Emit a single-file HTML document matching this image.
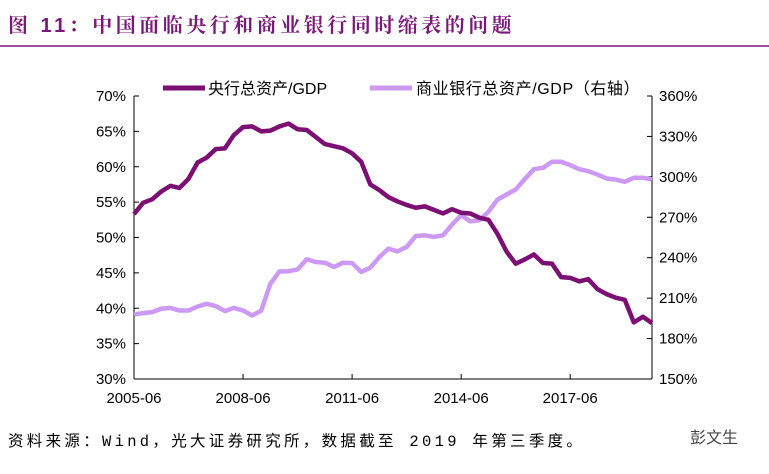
<!DOCTYPE html>
<html><head><meta charset="utf-8"><style>
body{margin:0;width:769px;height:469px;background:#fff;overflow:hidden;font-family:"Liberation Sans","Noto Sans CJK SC",sans-serif;}
</style></head><body>
<svg width="769" height="469">
<text x="8" y="32" font-size="20" font-weight="bold" letter-spacing="3.5" fill="#7a1a78" font-family="Liberation Sans,Noto Serif CJK SC,serif">图 11：中国面临央行和商业银行同时缩表的问题</text>
<line x1="0" y1="46" x2="769" y2="46" stroke="#7a1a78" stroke-width="1.5"/>
<g id="axes"></g>
<g id="series"></g>
<g>
<line x1="163" y1="88" x2="205" y2="88" stroke="#7b0f73" stroke-width="5"/>
<text x="208" y="94" font-size="16" fill="#000">央行总资产/GDP</text>
<line x1="370" y1="88" x2="412" y2="88" stroke="#cc99f5" stroke-width="5"/>
<text x="416" y="94" font-size="16" letter-spacing="0.6" fill="#000">商业银行总资产/GDP（右轴）</text>
</g>
<text x="8" y="446" font-size="15.5" letter-spacing="3.3" fill="#000" font-family="Liberation Mono,Noto Sans CJK SC,monospace">资料来源：Wind，光大证券研究所，数据截至 2019 年第三季度。</text>
<text x="690" y="443" font-size="16" fill="#444">彭文生</text>
</svg>
<script>
const xLabels=["2005-06","2008-06","2011-06","2014-06","2017-06"];
const leftTicks=[30,35,40,45,50,55,60,65,70];
const rightTicks=[150,180,210,240,270,300,330,360];
const centralBank=[53.3,54.9,55.4,56.5,57.3,57.0,58.3,60.6,61.3,62.5,62.6,64.5,65.6,65.7,65.0,65.1,65.7,66.1,65.3,65.2,64.2,63.2,62.9,62.6,61.9,60.7,57.5,56.7,55.7,55.1,54.6,54.2,54.4,53.9,53.4,54.0,53.5,53.4,52.8,52.5,50.5,48.0,46.3,46.9,47.6,46.4,46.3,44.4,44.3,43.8,44.1,42.7,42.0,41.5,41.2,38.0,38.8,37.9];
const commercialBanks=[197.9,198.9,199.6,202.1,202.8,200.8,200.8,203.8,205.8,204.1,200.4,202.8,200.8,197.1,200.8,220.6,229.8,230.0,231.3,238.8,236.8,236.3,233.1,236.3,236.0,229.4,232.6,240.5,246.7,244.7,248.0,256.1,256.6,255.4,256.6,264.6,271.5,267.0,267.8,274.0,283.1,286.9,290.6,298.3,305.7,306.7,311.2,311.2,308.7,305.7,304.2,301.7,298.8,298.0,296.3,299.3,299.3,298.0];
const NS="http://www.w3.org/2000/svg";
const L=134,R=652,T=96,B=379;
const qStep=(R-L)/57;
const xq=i=>L+i*qStep;
const yL=v=>B-(v-30)/40*(B-T);
const yR=v=>B-(v-150)/210*(B-T);
function mk(tag,attrs,parent){const e=document.createElementNS(NS,tag);for(const k in attrs)e.setAttribute(k,attrs[k]);parent.appendChild(e);return e;}
const ax=document.getElementById('axes');
let e=mk('line',{x1:L,y1:T,x2:L,y2:B,stroke:'#000','stroke-width':1},ax);


e=mk('line',{x1:R,y1:T,x2:R,y2:B,stroke:'#000','stroke-width':1},ax);


e=mk('line',{x1:L,y1:B,x2:R,y2:B,stroke:'#000','stroke-width':1},ax);


leftTicks.forEach(v=>{const y=yL(v);
 let t=mk('line',{x1:L,y1:y,x2:L+5,y2:y,stroke:'#000'},ax);
 
 
 let s=mk('text',{x:L-8,y:y+5,'font-size':15,'text-anchor':'end'},ax);s.textContent=v+'%';
 
 });
rightTicks.forEach(v=>{const y=yR(v);
 let t=mk('line',{x1:R-5,y1:y,x2:R,y2:y,stroke:'#000'},ax);
 
 
 let s=mk('text',{x:R+7,y:y+5,'font-size':15},ax);s.textContent=v+'%';
 
 });
xLabels.forEach((lab,i)=>{const x=xq(i*12);
 let t=mk('line',{x1:x,y1:B,x2:x,y2:B-5,stroke:'#000'},ax);
 
 
 let s=mk('text',{x:x,y:B+24,'font-size':15,'text-anchor':'middle'},ax);s.textContent=lab;
 
 });
const sg=document.getElementById('series');
let p=mk('polyline',{points:commercialBanks.map((v,i)=>xq(i)+','+yR(v)).join(' '),fill:'none',stroke:'#cc99f5','stroke-width':4.5,'stroke-linejoin':'round'},sg);


p=mk('polyline',{points:centralBank.map((v,i)=>xq(i)+','+yL(v)).join(' '),fill:'none',stroke:'#7b0f73','stroke-width':4.5,'stroke-linejoin':'round'},sg);


</script>
</body></html>
